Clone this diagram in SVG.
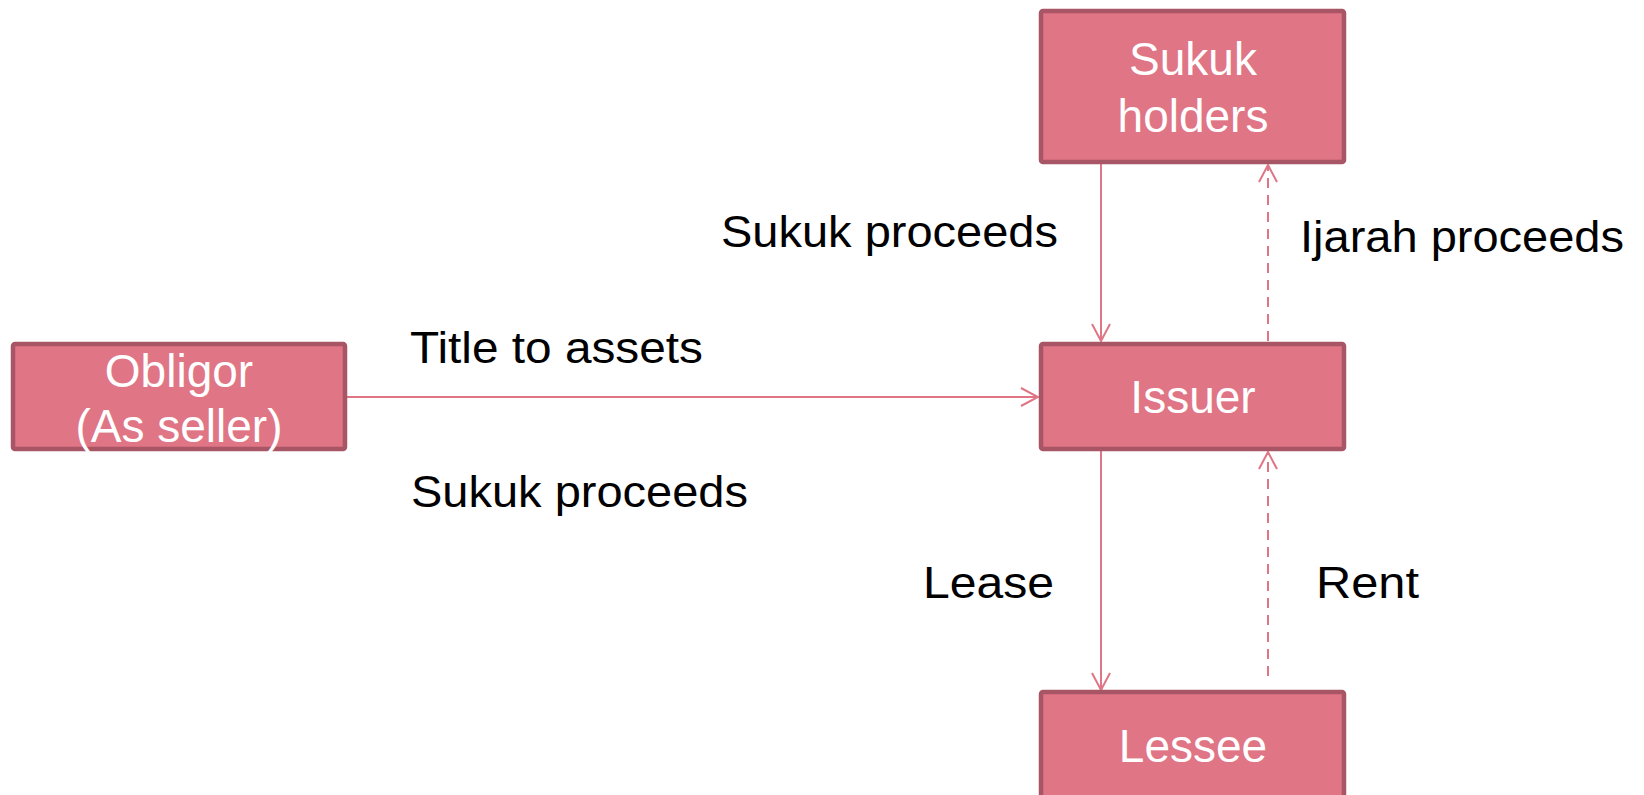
<svg xmlns="http://www.w3.org/2000/svg" width="1644" height="795" viewBox="0 0 1644 795">
  <style>
    .box { fill: #E07586; stroke: #A85666; stroke-width: 4.5; }
    .node-text { font-family: "Liberation Sans", Arial, sans-serif; font-size: 46px; fill: #FFFFFF; text-anchor: middle; }
    .label { font-family: "Liberation Sans", Arial, sans-serif; font-size: 45px; fill: #000000; }
    .flow { stroke: #E07586; stroke-width: 2; fill: none; }
    .dashed { stroke-dasharray: 10 7; }
  </style>
  <defs>
    <marker id="open-arrow" viewBox="0 0 20 20" refX="18" refY="10" markerWidth="20" markerHeight="20" markerUnits="userSpaceOnUse" orient="auto">
      <path d="M 1 1 L 18 10 L 1 19" fill="none" stroke="#E07586" stroke-width="2"/>
    </marker>
  </defs>

  <g id="connectors">
    <!-- Obligor -> Issuer -->
    <line class="flow" x1="347" y1="397" x2="1038" y2="397" marker-end="url(#open-arrow)"/>
    <!-- Sukuk holders -> Issuer -->
    <line class="flow" x1="1101" y1="164" x2="1101" y2="341" marker-end="url(#open-arrow)"/>
    <!-- Issuer -> Sukuk holders (dashed) -->
    <line class="flow dashed" x1="1268" y1="341" x2="1268" y2="165" marker-end="url(#open-arrow)"/>
    <!-- Issuer -> Lessee -->
    <line class="flow" x1="1101" y1="451" x2="1101" y2="690" marker-end="url(#open-arrow)"/>
    <!-- Lessee -> Issuer (dashed) -->
    <line class="flow dashed" x1="1268" y1="676" x2="1268" y2="452" marker-end="url(#open-arrow)"/>
  </g>

  <g id="obligor">
    <rect class="box" x="13" y="344" width="332" height="105" rx="2"/>
    <text class="node-text" x="179" y="387">Obligor</text>
    <text class="node-text" x="179" y="442">(As seller)</text>
  </g>

  <g id="sukuk-holders">
    <rect class="box" x="1041" y="11" width="303" height="151" rx="2"/>
    <text class="node-text" x="1193" y="75">Sukuk</text>
    <text class="node-text" x="1193" y="132">holders</text>
  </g>

  <g id="issuer">
    <rect class="box" x="1041" y="344" width="303" height="105" rx="2"/>
    <text class="node-text" x="1193" y="413">Issuer</text>
  </g>

  <g id="lessee">
    <rect class="box" x="1041" y="692" width="303" height="107" rx="2"/>
    <text class="node-text" x="1193" y="762">Lessee</text>
  </g>

  <g id="labels">
    <text class="label" x="721" y="247" textLength="337" lengthAdjust="spacingAndGlyphs">Sukuk proceeds</text>
    <text class="label" x="1300" y="252" textLength="324" lengthAdjust="spacingAndGlyphs">Ijarah proceeds</text>
    <text class="label" x="410" y="363" textLength="293" lengthAdjust="spacingAndGlyphs">Title to assets</text>
    <text class="label" x="411" y="507" textLength="337" lengthAdjust="spacingAndGlyphs">Sukuk proceeds</text>
    <text class="label" x="923" y="598" textLength="131" lengthAdjust="spacingAndGlyphs">Lease</text>
    <text class="label" x="1316" y="598" textLength="103" lengthAdjust="spacingAndGlyphs">Rent</text>
  </g>
</svg>
